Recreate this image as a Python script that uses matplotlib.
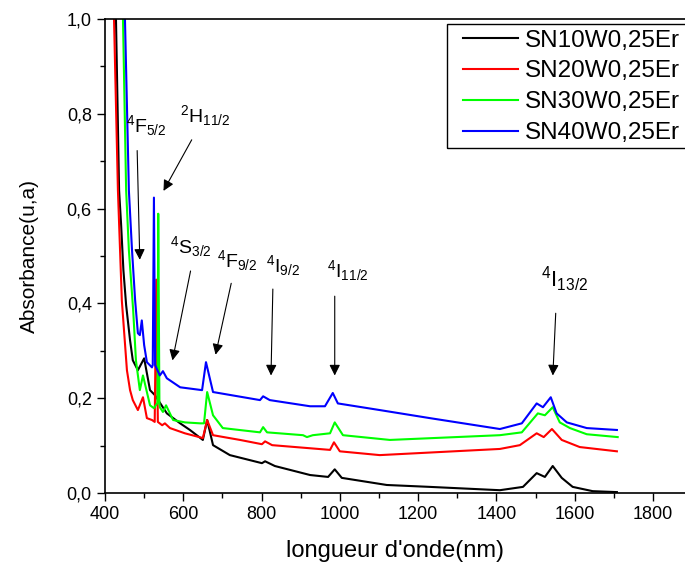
import matplotlib
matplotlib.use("Agg")
import matplotlib.pyplot as plt
from matplotlib.patches import Rectangle
from matplotlib.ticker import MultipleLocator, FuncFormatter

plt.rcParams['font.family'] = ['Liberation Sans', 'DejaVu Sans']
plt.rcParams['mathtext.fontset'] = 'custom'
plt.rcParams['mathtext.rm'] = 'Liberation Sans'
plt.rcParams['mathtext.it'] = 'Liberation Sans:italic'
plt.rcParams['mathtext.bf'] = 'Liberation Sans:bold'

# -------------------- data --------------------
labels = ["SN10W0,25Er", "SN20W0,25Er", "SN30W0,25Er", "SN40W0,25Er"]
colors = ["black", "#ff0000", "#00ff00", "#0000ff"]

sn10_x = [426, 428, 436, 441, 447, 454, 464, 471, 484, 500, 515, 528, 558, 592, 617, 650, 661,
          676, 719, 801, 809, 834, 924, 970, 987, 1005, 1120, 1230, 1409, 1468, 1503, 1524, 1544,
          1567, 1595, 1646, 1708]
sn10_y = [1.10, 1.0, 0.638, 0.568, 0.47, 0.396, 0.322, 0.280, 0.259, 0.284, 0.217, 0.206, 0.168,
          0.147, 0.133, 0.112, 0.154, 0.101, 0.080, 0.063, 0.067, 0.057, 0.038, 0.034, 0.050, 0.032,
          0.017, 0.013, 0.006, 0.013, 0.042, 0.034, 0.057, 0.032, 0.013, 0.004, 0.002]

sn20_x = [420, 423, 433, 443, 456, 464, 471, 484, 497, 507, 520, 527, 531, 535, 546, 553, 566,
          604, 650, 661, 676, 745, 801, 809, 827, 975, 985, 1000, 1102, 1409, 1460, 1503, 1521,
          1542, 1567, 1613, 1708]
sn20_y = [1.10, 1.0, 0.638, 0.406, 0.259, 0.217, 0.196, 0.175, 0.202, 0.158, 0.154, 0.150, 0.45,
          0.15, 0.143, 0.147, 0.137, 0.126, 0.116, 0.154, 0.122, 0.112, 0.103, 0.109, 0.101, 0.091,
          0.107, 0.088, 0.080, 0.093, 0.101, 0.126, 0.118, 0.135, 0.112, 0.097, 0.088]

sn30_x = [444, 446, 454, 461, 472, 479, 489, 497, 515, 525, 534, 536, 539, 540, 548, 556, 574,
          604, 643, 653, 661, 676, 701, 796, 804, 814, 906, 916, 931, 975, 987, 1008, 1128, 1409,
          1465, 1506, 1524, 1544, 1562, 1588, 1631, 1710]
sn30_y = [1.10, 0.996, 0.638, 0.512, 0.385, 0.280, 0.217, 0.248, 0.185, 0.179, 0.19, 0.589, 0.19,
          0.181, 0.171, 0.185, 0.154, 0.149, 0.147, 0.147, 0.213, 0.164, 0.137, 0.128, 0.139, 0.128,
          0.122, 0.118, 0.122, 0.126, 0.149, 0.122, 0.112, 0.122, 0.128, 0.168, 0.164, 0.181, 0.149,
          0.137, 0.124, 0.118]

sn40_x = [448, 451, 461, 469, 477, 484, 489, 494, 500, 507, 520, 522, 525, 528, 540, 548, 558,
          592, 648, 658, 676, 796, 804, 821, 924, 962, 982, 995, 1102, 1230, 1409, 1465, 1503,
          1519, 1539, 1554, 1580, 1631, 1708]
sn40_y = [1.10, 0.998, 0.638, 0.512, 0.406, 0.337, 0.333, 0.364, 0.312, 0.276, 0.265, 0.27, 0.623,
          0.27, 0.248, 0.257, 0.242, 0.223, 0.217, 0.276, 0.213, 0.196, 0.204, 0.196, 0.183, 0.183,
          0.211, 0.189, 0.175, 0.158, 0.135, 0.147, 0.189, 0.181, 0.202, 0.168, 0.149, 0.137, 0.133]

series_x = [sn10_x, sn20_x, sn30_x, sn40_x]
series_y = [sn10_y, sn20_y, sn30_y, sn40_y]

# transitions: label, text position, arrow start, arrow end
trans_labels = [r"$^{4}$F$_{5/2}$", r"$^{2}$H$_{11/2}$", r"$^{4}$S$_{3/2}$", r"$^{4}$F$_{9/2}$",
                r"$^{4}$I$_{9/2}$", r"$^{4}$I$_{11/2}$", r"$^{4}$I$_{13/2}$"]
trans_text = [(505, 0.775), (655, 0.796), (620, 0.52), (738, 0.49), (855, 0.48), (1021, 0.47), (1575, 0.45)]
trans_start = [(482, 0.728), (625, 0.750), (620, 0.474), (724, 0.448), (829, 0.436), (987, 0.421), (1552, 0.385)]
trans_end = [(489, 0.486), (546, 0.632), (571, 0.274), (681, 0.286), (824, 0.242), (987, 0.242), (1544, 0.242)]
trans_size = [14, 14, 14, 14, 14, 14, 16]

# -------------------- plot --------------------
fig = plt.figure(figsize=(6.85, 5.70), dpi=100)
ax = fig.add_axes([0.1533, 0.135, 0.8467, 0.832])

for xs, ys, c, lab in zip(series_x, series_y, colors, labels):
    ax.plot(xs, ys, color=c, lw=1.5, label=lab)

for lab, tp, sp, ep, fs in zip(trans_labels, trans_text, trans_start, trans_end, trans_size):
    ax.text(tp[0], tp[1], lab, fontsize=fs, ha='center', va='center')
    ax.annotate('', xy=ep, xytext=sp,
                arrowprops=dict(arrowstyle='-|>', color='black', lw=0.8, mutation_scale=16))

ax.set_xlim(400, 1882)
ax.set_ylim(0, 1.0)
ax.xaxis.set_major_locator(MultipleLocator(200))
ax.xaxis.set_minor_locator(MultipleLocator(100))
ax.yaxis.set_major_locator(MultipleLocator(0.2))
ax.yaxis.set_minor_locator(MultipleLocator(0.1))
ax.yaxis.set_major_formatter(FuncFormatter(lambda v, p: f"{v:.1f}".replace('.', ',')))
ax.tick_params(which='major', direction='out', length=6, width=1.0, labelsize=13)
ax.tick_params(which='minor', direction='out', length=3.5, width=1.0)
ax.spines['right'].set_visible(False)
for s in ['left', 'bottom', 'top']:
    ax.spines[s].set_linewidth(1.2)

ax.set_xlabel("longueur d'onde(nm)", fontsize=17, labelpad=12)
ax.set_ylabel("Absorbance(u,a)", fontsize=15, labelpad=20)

# legend frame drawn separately so the inner padding can match
ax.add_patch(Rectangle((0.5897, 0.727), 0.45, 0.262, transform=ax.transAxes, fill=False,
                       edgecolor='black', lw=1.0, clip_on=False, zorder=5))
leg = ax.legend(loc='upper left', bbox_to_anchor=(0.617, 0.977), fontsize=17.5, frameon=False,
                handlelength=2.26, handletextpad=0.3, labelspacing=0.36, borderpad=0,
                borderaxespad=0)

fig.savefig("out.png", dpi=100)
